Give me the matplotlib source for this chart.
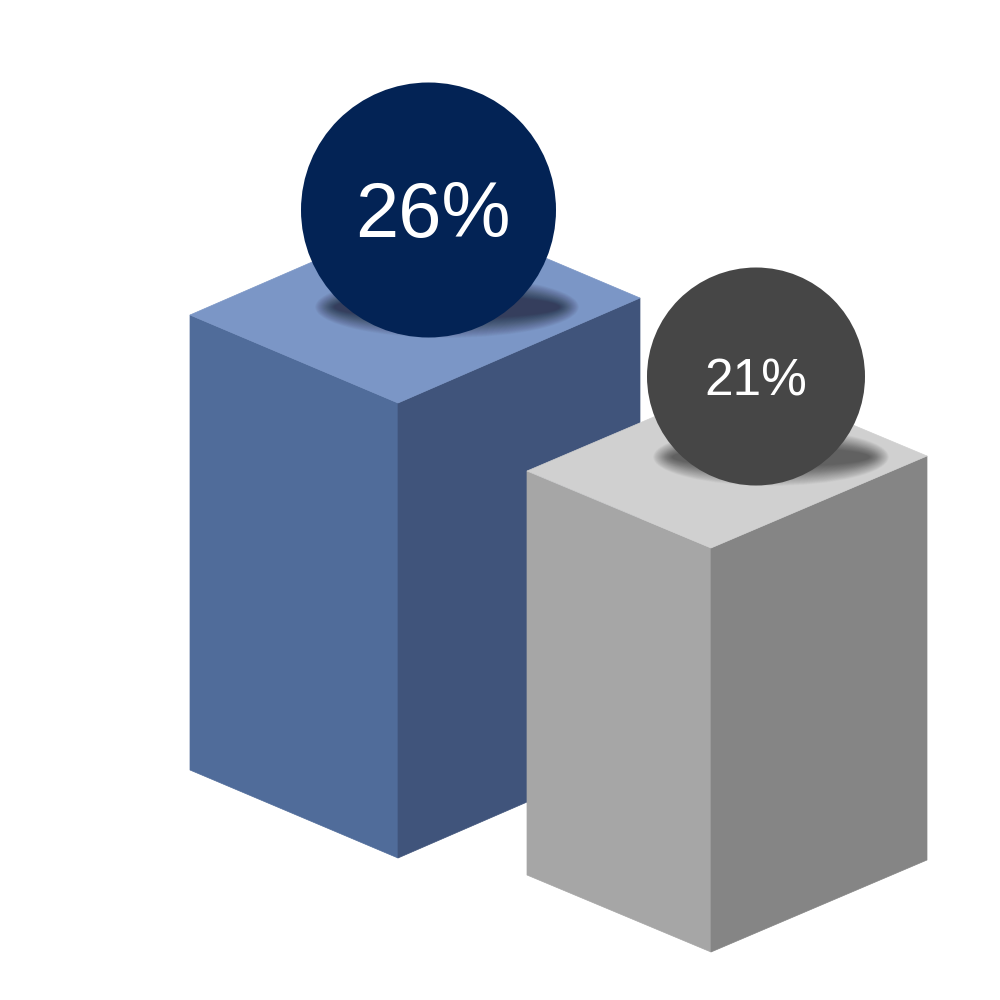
import matplotlib
matplotlib.use("Agg")
import matplotlib.pyplot as plt
from matplotlib.patches import Polygon, Circle, Ellipse

labels = ["26%", "21%"]
# cube corners, in picture pixels
left_x = [190, 527]
mid_x = [398, 711]
right_x = [640, 927]
top_left_y = [315, 471]
top_mid_y = [403, 548]
top_right_y = [298, 456]
heights = [455, 404]
back_y = [210, 379]
left_colors = ["#506C9A", "#A6A6A6"]
right_colors = ["#40547B", "#858585"]
top_colors = ["#7B96C6", "#D0D0D0"]
circle_colors = ["#032355", "#464646"]
circle_x = [428.5, 756]
circle_y = [210, 376.5]
circle_r = [127.5, 109]
shadow_x = [447, 771]
shadow_y = [307, 457]
shadow_w = [264, 236]
shadow_h = [62, 58]
font_sizes = [56, 37]
text_x = [433, 756]
text_y = [209, 376]

fig = plt.figure(figsize=(10, 10), dpi=100)
ax = fig.add_axes([0, 0, 1, 1])
ax.set_xlim(0, 1000)
ax.set_ylim(1000, 0)
ax.axis("off")

for i, lab in enumerate(labels):
    z = 10 * (i + 1)
    h = heights[i]
    lx, mx, rx = left_x[i], mid_x[i], right_x[i]
    ly, my, ry = top_left_y[i], top_mid_y[i], top_right_y[i]
    ax.add_patch(Polygon([(lx, ly), (mx, my), (mx, my + h), (lx, ly + h)], fc=left_colors[i], ec=left_colors[i], lw=0.5, zorder=z))
    ax.add_patch(Polygon([(mx, my), (rx, ry), (rx, ry + h), (mx, my + h)], fc=right_colors[i], ec=right_colors[i], lw=0.5, zorder=z))
    ax.add_patch(Polygon([(lx, ly), (mx, my), (rx, ry), (lx + rx - mx, back_y[i])], fc=top_colors[i], ec=top_colors[i], lw=0.5, zorder=z + 1))
    steps = 40
    for s in range(steps):
        d = 0.5 * s
        ax.add_patch(Ellipse((shadow_x[i], shadow_y[i]), shadow_w[i] - 2 * d, shadow_h[i] - 2 * d, fc="black", ec="none", alpha=0.0145, zorder=z + 2))
    ax.add_patch(Circle((circle_x[i], circle_y[i]), circle_r[i], fc=circle_colors[i], ec="none", zorder=z + 3))
    ax.text(text_x[i], text_y[i], lab, color="white", fontsize=font_sizes[i], family="Liberation Sans", ha="center", va="center_baseline", zorder=z + 4)

fig.savefig("out.png", dpi=100, facecolor="white")
